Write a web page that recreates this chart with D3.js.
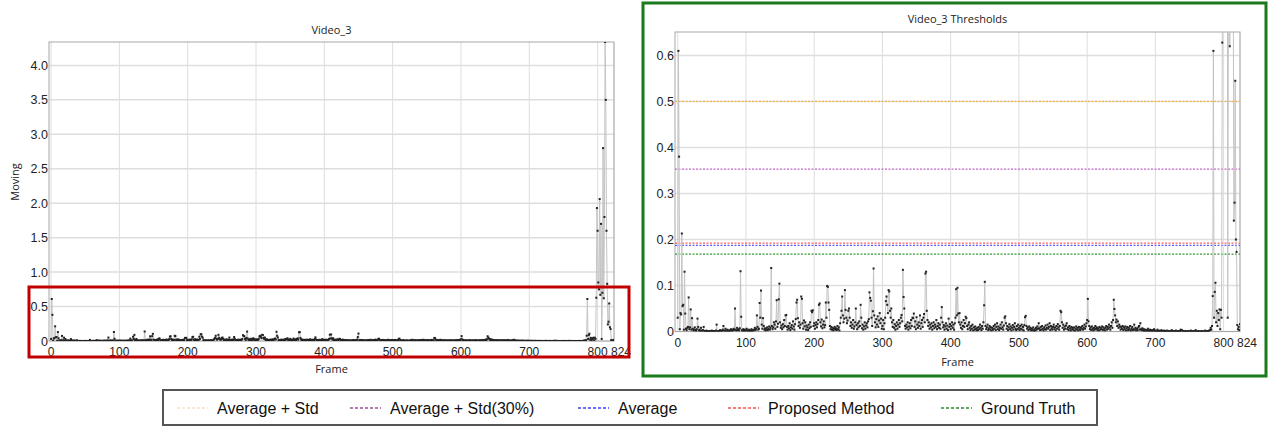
<!DOCTYPE html>
<html>
<head>
<meta charset="utf-8">
<script src="https://cdn.jsdelivr.net/npm/d3@7/dist/d3.min.js"></script>
<style>
body { margin: 0; background: #fff; }
text { font-family: "Liberation Sans", Arial, sans-serif; }
</style>
</head>
<body>
<div id="chart"></div>
<script>
// moving value per frame, frames 0..824 (20 per row)
var moving = [
0.03,0.61,0.38,0.005,0.04,0.037,0.213,0.055,0.058,0.004,0.13,0.039,0.006,0.003,0.008,0.01,0.074,0.005,0.009,0.048,
0.004,0.029,0.006,0.002,0.004,0.009,0.003,0.001,0.005,0.028,0.01,0.002,0.004,0.001,0.008,0.002,0.001,0.003,0.01,0.001,
0.001,0,0.002,0,0.001,0,0,0.001,0,0,0.002,0,0,0.001,0,0,0.002,0.015,0.001,0,
0,0.001,0.003,0,0.002,0.001,0.004,0.012,0.002,0,0.006,0.002,0.001,0.004,0,0.002,0.001,0.003,0.005,0.002,
0.001,0.004,0.006,0.003,0.05,0.004,0.002,0.008,0.003,0.005,0.002,0.007,0.131,0.032,0.003,0.001,0.005,0.002,0.004,0.001,
0.003,0.006,0.002,0.001,0.004,0.003,0.001,0.002,0.005,0.001,0.003,0.002,0.004,0.008,0.003,0.006,0.035,0.01,0.004,0.006,
0.062,0.03,0.089,0.015,0.006,0.029,0.012,0.004,0.007,0.002,0.005,0.009,0.003,0.006,0.011,0.004,0.008,0.138,0.012,0.005,
0.009,0.02,0.015,0.006,0.022,0.068,0.01,0.017,0.07,0.104,0.02,0.008,0.013,0.005,0.016,0.009,0.025,0.012,0.035,0.036,
0.01,0.004,0.012,0.007,0.018,0.003,0.009,0.014,0.006,0.022,0.011,0.004,0.016,0.027,0.063,0.069,0.029,0.012,0.02,0.008,
0.015,0.076,0.071,0.018,0.006,0.024,0.011,0.02,0.004,0.013,0.009,0.003,0.015,0.007,0.02,0.01,0.045,0.042,0.046,0.012,
0.018,0.006,0.014,0.02,0.009,0.016,0.025,0.058,0.061,0.02,0.011,0.026,0.007,0.015,0.022,0.009,0.014,0.063,0.03,0.099,
0.097,0.063,0.047,0.012,0.005,0.01,0.004,0.008,0.002,0.006,0.01,0.004,0.007,0.003,0.012,0.005,0.009,0.002,0.018,0.03,
0.045,0.076,0.035,0.02,0.028,0.09,0.047,0.03,0.018,0.024,0.045,0.05,0.03,0.012,0.02,0.008,0.015,0.025,0.006,0.011,
0.02,0.05,0.014,0.005,0.018,0.009,0.022,0.012,0.058,0.03,0.007,0.015,0.004,0.011,0.02,0.006,0.013,0.018,0.009,0.022,
0.027,0.085,0.073,0.067,0.03,0.012,0.044,0.137,0.035,0.02,0.009,0.027,0.015,0.033,0.01,0.024,0.04,0.018,0.028,0.006,
0.012,0.025,0.005,0.018,0.03,0.066,0.076,0.058,0.04,0.09,0.087,0.045,0.03,0.05,0.02,0.01,0.025,0.008,0.016,0.004,
0.012,0.02,0.006,0.015,0.025,0.01,0.018,0.03,0.036,0.022,0.134,0.075,0.05,0.012,0.006,0.015,0.009,0.02,0.004,0.011,
0.018,0.007,0.025,0.012,0.03,0.029,0.039,0.01,0.022,0.005,0.031,0.015,0.008,0.02,0.012,0.035,0.006,0.018,0.025,0.01,
0.03,0.038,0.02,0.126,0.13,0.045,0.025,0.012,0.02,0.006,0.015,0.009,0.018,0.004,0.012,0.02,0.007,0.015,0.01,0.025,
0.005,0.012,0.018,0.008,0.015,0.006,0.03,0.053,0.02,0.009,0.014,0.004,0.011,0.018,0.006,0.013,0.003,0.028,0.01,0.016,
0.005,0.012,0.02,0.008,0.015,0.004,0.018,0.03,0.092,0.035,0.095,0.039,0.02,0.04,0.015,0.008,0.02,0.005,0.012,0.025,
0.01,0.018,0.032,0.029,0.012,0.005,0.015,0.02,0.008,0.003,0.012,0.006,0.015,0.002,0.009,0.004,0.011,0.006,0.002,0.008,
0.003,0.01,0.005,0.015,0.008,0.003,0.012,0.006,0.02,0.057,0.108,0.012,0.005,0.009,0.015,0.003,0.007,0.012,0.004,0.009,
0.002,0.008,0.004,0.012,0.006,0.015,0.003,0.01,0.018,0.005,0.011,0.003,0.008,0.015,0.006,0.02,0.009,0.004,0.013,0.03,
0.033,0.018,0.006,0.012,0.003,0.009,0.016,0.005,0.011,0.002,0.008,0.014,0.004,0.01,0.018,0.006,0.003,0.012,0.005,0.015,
0.008,0.003,0.012,0.006,0.015,0.004,0.01,0.002,0.014,0.031,0.034,0.012,0.006,0.009,0.003,0.011,0.005,0.008,0.002,0.006,
0.003,0.009,0.001,0.005,0.002,0.008,0.004,0.011,0.006,0.018,0.007,0.003,0.01,0.004,0.012,0.006,0.002,0.009,0.005,0.013,
0.004,0.008,0.015,0.006,0.01,0.018,0.003,0.012,0.007,0.004,0.01,0.015,0.005,0.009,0.002,0.012,0.006,0.016,0.009,0.004,
0.012,0.045,0.042,0.02,0.008,0.015,0.004,0.011,0.006,0.013,0.018,0.005,0.009,0.003,0.012,0.007,0.002,0.01,0.005,0.008,
0.003,0.009,0.001,0.006,0.011,0.004,0.008,0.002,0.01,0.005,0.003,0.009,0.006,0.012,0.004,0.008,0.015,0.006,0.011,0.018,
0.025,0.071,0.022,0.012,0.005,0.009,0.003,0.011,0.006,0.002,0.008,0.004,0.012,0.006,0.009,0.003,0.007,0.002,0.01,0.004,
0.008,0.005,0.011,0.003,0.009,0.006,0.002,0.008,0.012,0.004,0.01,0.006,0.015,0.009,0.004,0.012,0.02,0.008,0.025,0.069,
0.049,0.035,0.02,0.026,0.012,0.022,0.008,0.015,0.011,0.004,0.01,0.006,0.012,0.003,0.009,0.005,0.011,0.002,0.007,0.01,
0.003,0.008,0.004,0.012,0.002,0.006,0.01,0.003,0.005,0.015,0.004,0.008,0.002,0.006,0.003,0.009,0.012,0.004,0.018,0.005,
0.003,0.007,0.002,0.005,0.001,0.004,0.002,0.003,0.001,0.006,0.002,0.001,0.004,0.002,0,0.003,0.001,0.002,0.005,0.001,
0.002,0,0.001,0.004,0,0.001,0.002,0,0.001,0.003,0,0.001,0,0.002,0,0.001,0,0.002,0,0.001,
0,0,0.001,0,0.003,0,0,0.001,0,0,0.002,0,0,0.001,0,0,0.001,0.004,0,0.003,
0,0.001,0,0,0.001,0,0,0,0.001,0,0,0,0.002,0,0,0,0.001,0,0,0.003,
0,0,0,0.001,0,0,0,0,0.001,0,0,0,0,0.002,0,0,0,0.001,0,0.002,
0.003,0.008,0.004,0.012,0.077,0.61,0.03,0.086,0.106,0.02,0.045,0.012,0.04,0.025,0.048,0.005,0.047,0.03,0.628,1.93,
1.6,0.85,0.75,2.06,0.67,1.7,0.03,0.7,2.8,0.62,1.8,4.34,3.5,1.6,0.83,0.241,0.28,0.545,0.2,0.173,
0.014,0.005,0.01,0.003,0.016
];

var frameTicks = [0, 100, 200, 300, 400, 500, 600, 700, 800, 824];
var leftYTicks = [0, 0.5, 1.0, 1.5, 2.0, 2.5, 3.0, 3.5, 4.0];
var rightYTicks = [0, 0.1, 0.2, 0.3, 0.4, 0.5, 0.6];

var thresholdNames = ["Average + Std", "Average + Std(30%)", "Average", "Proposed Method", "Ground Truth"];
var thresholdValues = [0.5, 0.353, 0.187, 0.192, 0.168];
var thresholdColors = ["#f3b540", "#c266c4", "#5d5dff", "#ff5c5c", "#2f9a2f"];
var legendColors = ["#f5e2c6", "#a0509c", "#3d3dff", "#ff5050", "#2e8b2e"];

var width = 1269, height = 426;
var svg = d3.select("#chart").append("svg").attr("width", width).attr("height", height);

var frames = moving.map((v, i) => ({ f: i, v: v }));

function panel(opts) {
	var x = d3.scaleLinear().domain([opts.x0, 824]).range([opts.left, opts.right]);
	var y = d3.scaleLinear().domain([0, opts.yMax]).range([opts.bottom, opts.top]);
	var g = svg.append("g");

	g.append("clipPath").attr("id", opts.id + "-clip")
		.append("rect")
		.attr("x", opts.left).attr("y", opts.top)
		.attr("width", opts.right - opts.left).attr("height", opts.bottom - opts.top);

	// grid
	g.selectAll(".vgrid").data(frameTicks).enter().append("line")
		.attr("x1", d => x(d)).attr("x2", d => x(d))
		.attr("y1", opts.top).attr("y2", opts.bottom)
		.style("stroke", "#dedede");
	g.selectAll(".hgrid").data(opts.yTicks).enter().append("line")
		.attr("x1", opts.left).attr("x2", opts.right)
		.attr("y1", d => y(d)).attr("y2", d => y(d))
		.style("stroke", "#dedede").style("stroke-width", 1.5);

	g.append("rect")
		.attr("x", opts.left).attr("y", opts.top)
		.attr("width", opts.right - opts.left).attr("height", opts.bottom - opts.top)
		.style("fill", "none").style("stroke", "#a8a8a8");

	var plot = g.append("g").attr("clip-path", "url(#" + opts.id + "-clip)");

	if (opts.thresholds) {
		thresholdValues.forEach((t, i) => {
			plot.append("line")
				.attr("x1", opts.left).attr("x2", opts.right)
				.attr("y1", y(t)).attr("y2", y(t))
				.style("stroke", thresholdColors[i])
				.style("stroke-width", 1.3)
				.style("stroke-dasharray", "2,1.5");
		});
	}

	plot.append("path")
		.datum(frames)
		.attr("d", d3.line().x(d => x(d.f)).y(d => y(d.v)))
		.style("fill", "none").style("stroke", "#c4c4c4").style("stroke-width", 1);

	plot.selectAll(".pt").data(frames).enter().append("rect")
		.attr("x", d => x(d.f) - 1).attr("y", d => y(d.v) - 1)
		.attr("width", 2).attr("height", 2)
		.style("fill", "#222");

	// axes labels
	g.selectAll(".xt").data(frameTicks).enter().append("text")
		.attr("x", d => x(d) + (d == 824 ? 7 : 0))
		.attr("y", opts.bottom + 15)
		.attr("text-anchor", "middle")
		.style("font-size", "12px").style("fill", "#222")
		.text(d => d);
	g.selectAll(".yt").data(opts.yTicks).enter().append("text")
		.attr("x", opts.left - 1)
		.attr("y", d => y(d) + 4.5)
		.attr("text-anchor", "end")
		.style("font-size", "12.5px").style("fill", "#222")
		.text(d => d == 0 ? "0" : d3.format(".1f")(d));

	g.append("text")
		.attr("x", (opts.left + opts.right) / 2).attr("y", opts.titleY)
		.attr("text-anchor", "middle")
		.style("font-family", "'Open Sans', sans-serif")
		.style("font-size", "11px").style("fill", "#222")
		.text(opts.title);
	g.append("text")
		.attr("x", (opts.left + opts.right) / 2).attr("y", opts.frameY)
		.attr("text-anchor", "middle")
		.style("font-family", "'Open Sans', sans-serif")
		.style("font-size", "11px").style("fill", "#222")
		.text("Frame");
	if (opts.yLabel) {
		g.append("text")
			.attr("transform", "translate(19,182) rotate(-90)")
			.attr("text-anchor", "middle")
			.style("font-family", "'Open Sans', sans-serif")
			.style("font-size", "11px").style("fill", "#222")
			.text(opts.yLabel);
	}
}

panel({ id: "left", x0: -3, left: 49, right: 614, top: 42, bottom: 341, yMax: 4.34,
	yTicks: leftYTicks, title: "Video_3", titleY: 34, frameY: 373, yLabel: "Moving" });
panel({ id: "right", x0: -4, left: 675, right: 1240, top: 32, bottom: 331.5, yMax: 0.651,
	yTicks: rightYTicks, title: "Video_3 Thresholds", titleY: 23, frameY: 366, thresholds: true });

// highlight boxes
svg.append("rect").attr("x", 29).attr("y", 287).attr("width", 600).attr("height", 70)
	.style("fill", "none").style("stroke", "#c00000").style("stroke-width", 3);
svg.append("rect").attr("x", 643).attr("y", 3).attr("width", 623).attr("height", 373)
	.style("fill", "none").style("stroke", "#1b7a1b").style("stroke-width", 3);

// legend
var legend = svg.append("g");
legend.append("rect").attr("x", 163).attr("y", 390).attr("width", 934).attr("height", 35)
	.style("fill", "#fff").style("stroke", "#555").style("stroke-width", 2);
var legendX = [177, 350, 578, 728, 941];
thresholdNames.forEach((name, i) => {
	legend.append("line")
		.attr("x1", legendX[i]).attr("x2", legendX[i] + 31)
		.attr("y1", 408).attr("y2", 408)
		.style("stroke", legendColors[i]).style("stroke-width", 1.5)
		.style("stroke-dasharray", "3,2");
	legend.append("text")
		.attr("x", legendX[i] + 40).attr("y", 414)
		.style("font-size", "16px").style("fill", "#111")
		.text(name);
});
</script>
</body>
</html>
